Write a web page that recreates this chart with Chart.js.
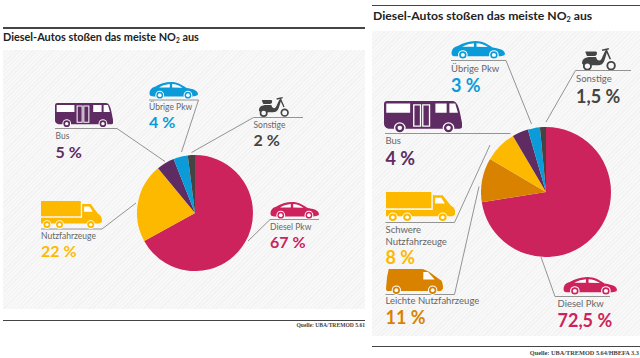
<!DOCTYPE html>
<html>
<head>
<meta charset="utf-8">
<style>
  html, body { margin: 0; padding: 0; background: #fff; }
  #page { position: relative; width: 640px; height: 358px; overflow: hidden; font-family: Lato, sans-serif; }
  .panel { position: absolute; background: repeating-linear-gradient(135deg, #f2f2f2 0 1px, #f8f8f8 1px 3px); }
  .rule { position: absolute; height: 1.5px; background: #444; }
  .title { position: absolute; font-weight: 700; color: #222; white-space: nowrap; line-height: 1; }
  .title sub { font-size: 60%; line-height: 0; vertical-align: -0.25em; }
  .source { position: absolute; font-family: "Liberation Serif", serif; font-weight: 700; color: #444; white-space: nowrap; line-height: 1; }
  .label, .value { position: absolute; white-space: nowrap; line-height: 1; transform: translateY(-50%); }
  .label { color: #666; }
  .value { font-weight: 700; }
  canvas { position: absolute; }
  svg.lines { position: absolute; left: 0; top: 0; }
  svg.icon { position: absolute; }
</style>
</head>
<body>
<div id="page">
  <div class="panel" style="left:3px;top:50px;width:362px;height:259px"></div>
  <div class="panel" style="left:372px;top:31px;width:268px;height:305px"></div>
  <div class="rule" style="left:3px;top:27px;width:362px"></div>
  <div class="rule" style="left:3px;top:319.5px;width:362px"></div>
  <div class="rule" style="left:372px;top:4.5px;width:268px"></div>
  <div class="rule" style="left:372px;top:345.5px;width:268px"></div>
  <div class="title" style="left:3px;top:32px;font-size:10.9px">Diesel-Autos stoßen das meiste NO<sub>2</sub> aus</div>
  <div class="title" style="left:373px;top:10px;font-size:12.2px">Diesel-Autos stoßen das meiste NO<sub>2</sub> aus</div>
  <div class="source" style="right:275px;top:323px;font-size:5.6px">Quelle: UBA/TREMOD 5.61</div>
  <div class="source" style="right:1px;top:350px;font-size:6.3px">Quelle: UBA/TREMOD 5.64/HBEFA 3.3</div>

  <svg width="0" height="0" style="position:absolute">
    <symbol id="car" viewBox="0 0 146 52" preserveAspectRatio="none">
      <path fill="currentColor" d="M2 38C0 26 6 17 18 14C32 6 48 0 66 0C84 0 98 8 112 18C128 20 142 24 145 32L146 38C142 42 134 43 128 43H14C8 43 3 42 2 38Z"/>
      <path fill="#fff" d="M30 16C40 10 52 7 62 6V16ZM69 6C80 6 90 10 100 17L69 16Z"/>
      <circle cx="32" cy="39" r="13" fill="#fff"/><circle cx="32" cy="39" r="10" fill="currentColor"/><circle cx="32" cy="39" r="5.5" fill="#fff"/>
      <circle cx="116" cy="39" r="13" fill="#fff"/><circle cx="116" cy="39" r="10" fill="currentColor"/><circle cx="116" cy="39" r="5.5" fill="#fff"/>
    </symbol>
    <symbol id="bus" viewBox="0 0 173 75" preserveAspectRatio="none">
      <path fill="currentColor" d="M7 0H152C160 0 165 10 168 25L173 50V60C173 63 170 64 165 64H10C3 62 0 58 0 52V7Q0 0 7 0Z"/>
      <path fill="#fff" d="M5 6H58V27H5ZM114 6H139V27H114ZM145 6H158L164 27H145Z"/>
      <path fill="none" stroke="#fff" stroke-width="3" d="M66 9H81V58H66ZM86 9H101V58H86Z"/>
      <circle cx="35" cy="62" r="13" fill="#fff"/><circle cx="35" cy="62" r="10" fill="currentColor"/><circle cx="35" cy="62" r="5" fill="#fff"/>
      <circle cx="143" cy="62" r="13" fill="#fff"/><circle cx="143" cy="62" r="10" fill="currentColor"/><circle cx="143" cy="62" r="5" fill="#fff"/>
    </symbol>
    <symbol id="truck" viewBox="0 0 184 83" preserveAspectRatio="none">
      <path fill="currentColor" d="M0 0H120V45H0ZM124 9H150L172 38Q184 42 184 62L176 67H0V50H124Z"/>
      <path fill="#fff" d="M130 16H146L156 32H130Z"/>
      <g fill="#fff"><circle cx="18" cy="70" r="13"/><circle cx="56" cy="70" r="13"/><circle cx="150" cy="70" r="13"/></g>
      <g fill="currentColor"><circle cx="18" cy="70" r="10.5"/><circle cx="56" cy="70" r="10.5"/><circle cx="150" cy="70" r="10.5"/></g>
      <g fill="#fff"><circle cx="18" cy="70" r="5"/><circle cx="56" cy="70" r="5"/><circle cx="150" cy="70" r="5"/></g>
    </symbol>
    <symbol id="van" viewBox="0 0 171 76" preserveAspectRatio="none">
      <path fill="currentColor" d="M8 0H105C125 0 150 25 165 33Q171 38 171 58L165 64H3Q0 62 0 58L3 25Z"/>
      <path fill="#fff" d="M112 9H126L146 31H112Z"/>
      <g fill="#fff"><circle cx="31" cy="62" r="14"/><circle cx="140" cy="62" r="14"/></g>
      <g fill="currentColor"><circle cx="31" cy="62" r="11"/><circle cx="140" cy="62" r="11"/></g>
      <g fill="#fff"><circle cx="31" cy="62" r="5.5"/><circle cx="140" cy="62" r="5.5"/></g>
    </symbol>
    <symbol id="scooter" viewBox="0 0 93 60" preserveAspectRatio="none">
      <path fill="currentColor" d="M12 12Q10 9 14 9H40Q44 10 42 17Q40 21 34 21H16Z"/>
      <path fill="currentColor" d="M3 42C2 30 10 24 26 24H40C42 34 50 36 54 30L64 8H70L62 34C58 44 52 46 45 46H8Z"/>
      <path fill="none" stroke="currentColor" stroke-width="4" d="M56 6L74 2M67 5L78 30"/>
      <circle cx="17" cy="48" r="9.5" fill="#f8f8f8" stroke="currentColor" stroke-width="5"/>
      <circle cx="80" cy="47" r="10" fill="#f8f8f8" stroke="currentColor" stroke-width="5"/>
    </symbol>
  </svg>
  <svg class="lines" id="lines" width="640" height="358"></svg>
  <canvas id="pieLeft"></canvas>
  <canvas id="pieRight"></canvas>
</div>
<script src="https://cdn.jsdelivr.net/npm/chart.js@4"></script>
<script>
const leftCategories = ['Diesel Pkw', 'Nutzfahrzeuge', 'Bus', 'Übrige Pkw', 'Sonstige'];
const leftValues = [67, 22, 5, 4, 2];
const leftValueLabels = ['67 %', '22 %', '5 %', '4 %', '2 %'];
const leftColors = ['#cd235c', '#fdb900', '#5f2b63', '#0a9bd8', '#444444'];

const rightCategories = ['Diesel Pkw', 'Leichte Nutzfahrzeuge', 'Schwere', 'Bus', 'Übrige Pkw', 'Sonstige'];
const rightValues = [72.5, 11, 8, 4, 3, 1.5];
const rightValueLabels = ['72,5 %', '11 %', '8 %', '4 %', '3 %', '1,5 %'];
const rightColors = ['#cd235c', '#d98200', '#fdb900', '#5f2b63', '#0a9bd8', '#444444'];

// label placement: x, y of label centre, y of value centre, icon box, leader line
const leftLayout = [
  { x: 270, y: 226.9, vy: 241.6, size: 8.5, vsize: 16, icon: 'car', box: [270, 202, 49, 17.5], line: '248,241 270,219.5 319,219.5' },
  { x: 41, y: 235.9, vy: 250.6, size: 8.5, vsize: 16, icon: 'truck', box: [41, 201, 61, 28], line: '41,229 102,229 136,203' },
  { x: 55.5, y: 136.4, vy: 151.6, size: 8.5, vsize: 16, icon: 'bus', box: [55, 103, 58, 25], line: '55,128.5 117,128.5 165,161.5' },
  { x: 149, y: 107.4, vy: 122.1, size: 8.5, vsize: 16, icon: 'car', box: [149, 82, 49, 17.5], line: '149,100 198.5,100 181.5,152' },
  { x: 253.5, y: 124.9, vy: 139.6, size: 8.5, vsize: 16, icon: 'scooter', box: [258, 97, 31, 20], line: '191.5,152.5 253.5,117.5 303,117.5' },
];
const rightLayout = [
  { x: 557.5, y: 303.8, vy: 320.2, size: 9.5, vsize: 18, icon: 'car', box: [563, 277, 54, 18.5], line: '541,257 555,296.5 610,296.5' },
  { x: 385.5, y: 300.8, vy: 316.7, size: 9.5, vsize: 18, icon: 'van', box: [385.5, 268.5, 57, 26], line: '385.5,294.5 454.5,294.5 479,186.5' },
  { x: 385.5, y: 230.3, vy: 256.5, size: 9.5, vsize: 18, icon: 'truck', box: [385.5, 191.5, 69.5, 30], line: '385.5,222.5 454.5,222.5 490,145', second: 'Nutzfahrzeuge', secondY: 241.7 },
  { x: 385.5, y: 141.3, vy: 158.2, size: 9.5, vsize: 18, icon: 'bus', box: [384, 100.5, 78, 32.5], line: '385,133.5 510.5,133.5' },
  { x: 451, y: 68.8, vy: 85.2, size: 9.5, vsize: 18, icon: 'car', box: [451, 41, 54, 18.5], line: '451,60.5 506,60.5 531.5,124' },
  { x: 576, y: 78.8, vy: 95.7, size: 9.5, vsize: 18, icon: 'scooter', box: [581, 47.5, 35, 22.5], line: '546,122 575.5,70.5 631,70.5' },
];

const page = document.getElementById('page');
const lines = document.getElementById('lines');

const addText = (className, html, left, top, fontSize, color) => {
  const el = document.createElement('div');
  el.className = className;
  el.innerHTML = html;
  el.style.left = `${left}px`;
  el.style.top = `${top}px`;
  el.style.fontSize = `${fontSize}px`;
  if (color) el.style.color = color;
  page.appendChild(el);
  return el;
};

const addAnnotations = (categories, valueLabels, colors, layout) => {
  layout.forEach((item, i) => {
    const poly = document.createElementNS('http://www.w3.org/2000/svg', 'polyline');
    poly.setAttribute('points', item.line);
    poly.setAttribute('fill', 'none');
    poly.setAttribute('stroke', '#888');
    poly.setAttribute('stroke-width', '0.9');
    lines.appendChild(poly);

    const icon = document.createElementNS('http://www.w3.org/2000/svg', 'svg');
    icon.setAttribute('class', 'icon');
    icon.setAttribute('width', item.box[2]);
    icon.setAttribute('height', item.box[3]);
    icon.style.left = `${item.box[0]}px`;
    icon.style.top = `${item.box[1]}px`;
    icon.style.color = colors[i];
    const use = document.createElementNS('http://www.w3.org/2000/svg', 'use');
    use.setAttribute('href', `#${item.icon}`);
    use.setAttribute('width', item.box[2]);
    use.setAttribute('height', item.box[3]);
    icon.appendChild(use);
    page.appendChild(icon);

    addText('label', categories[i], item.x, item.y, item.size);
    if (item.second) addText('label', item.second, item.x, item.secondY, item.size);
    addText('value', valueLabels[i], item.x, item.vy, item.vsize, colors[i]);
  });
};

addAnnotations(leftCategories, leftValueLabels, leftColors, leftLayout);
addAnnotations(rightCategories, rightValueLabels, rightColors, rightLayout);

const drawPie = (id, left, top, size, categories, values, colors) => {
  const canvas = document.getElementById(id);
  canvas.width = size;
  canvas.height = size;
  canvas.style.left = `${left}px`;
  canvas.style.top = `${top}px`;
  new Chart(canvas, {
    type: 'pie',
    data: {
      labels: categories,
      datasets: [{ data: values, backgroundColor: colors, borderWidth: 0 }],
    },
    options: {
      responsive: false,
      animation: false,
      layout: { padding: 0 },
      plugins: { legend: { display: false }, tooltip: { enabled: false } },
    },
  });
};

drawPie('pieLeft', 137, 155, 116, leftCategories, leftValues, leftColors);
drawPie('pieRight', 481, 126.5, 130, rightCategories, rightValues, rightColors);
</script>
</body>
</html>
